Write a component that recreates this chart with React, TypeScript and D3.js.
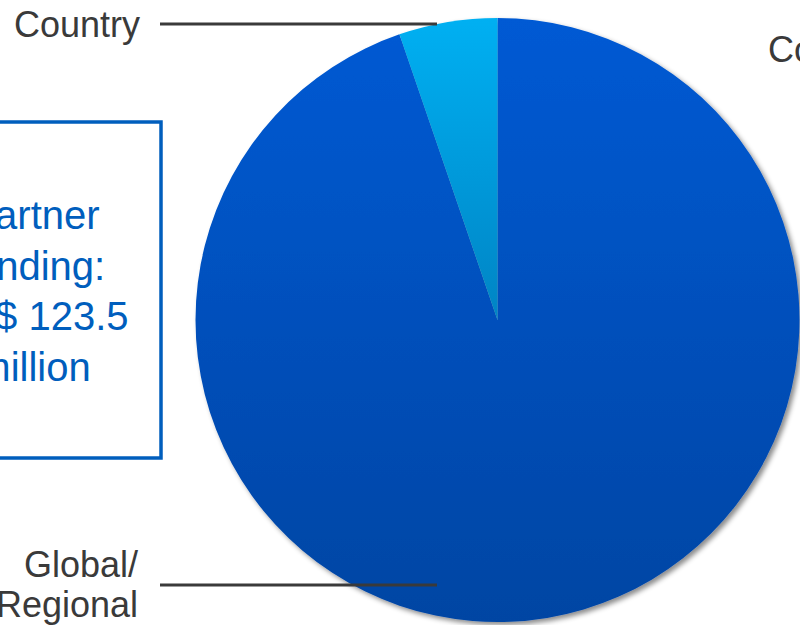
import React from "react";
import * as d3 from "d3";

const categories = ["Global/Regional", "Country"];
const values = [117.0, 6.5];
const boxLines = ["Partner", "funding:", "US$ 123.5", "million"];

const W = 800;
const H = 625;
const cx = 497.5;
const cy = 320;
const R = 302;

export default function App() {
  const pie = d3
    .pie<number>()
    .sort(null)
    .startAngle(0)
    .endAngle(2 * Math.PI)
    .value((d) => d);
  const arcs = pie(values);
  const arcGen = d3.arc<d3.PieArcDatum<number>>().innerRadius(0).outerRadius(R);
  const fills = ["url(#gMain)", "url(#gLight)"];
  const font = "'Liberation Sans', Arial, sans-serif";
  const lineY = d3.scalePoint<number>().domain([0, 1, 2, 3]).range([229, 381]);

  return (
    <svg
      width={W}
      height={H}
      style={{ position: "absolute", left: 0, top: 0, display: "block" }}
    >
      <defs>
        <linearGradient id="gMain" gradientUnits="userSpaceOnUse" x1="0" y1={-R} x2="0" y2={R}>
          <stop offset="0" stopColor="#005AD4" />
          <stop offset="1" stopColor="#0045A3" />
        </linearGradient>
        <linearGradient id="gLight" gradientUnits="userSpaceOnUse" x1="0" y1={-R} x2="0" y2={R}>
          <stop offset="0" stopColor="#00B0F2" />
          <stop offset="0.5" stopColor="#0084C4" />
          <stop offset="1" stopColor="#005A9A" />
        </linearGradient>
        <filter id="shadow" x="-10%" y="-10%" width="130%" height="130%">
          <feDropShadow dx="3" dy="3" stdDeviation="2.5" floodColor="#000" floodOpacity="0.45" />
        </filter>
      </defs>
      <rect width={W} height={H} fill="#fff" />
      <g transform={`translate(${cx},${cy})`} filter="url(#shadow)">
        {arcs.map((a, i) => (
          <path key={categories[i]} d={arcGen(a) || ""} fill={fills[i]} />
        ))}
      </g>

      {/* Box */}
      <rect x={-200} y={122} width={361} height={336} fill="none" stroke="#005EBD" strokeWidth={3.5} />
      {boxLines.map((t, i) => (
        <text
          key={t}
          x={34}
          y={lineY(i)}
          textAnchor="middle"
          fontFamily={font}
          fontSize={40}
          fill="#005EBD"
        >
          {t}
        </text>
      ))}

      {/* Leader lines & labels */}
      <line x1={160} x2={437} y1={24} y2={24} stroke="#3a3a3a" strokeWidth={3} />
      <text x={140} y={37} textAnchor="end" fontFamily={font} fontSize={36} fill="#3a3a3a">
        {categories[1]}
      </text>
      <line x1={160} x2={437} y1={585} y2={585} stroke="#3a3a3a" strokeWidth={3} />
      <text x={138} y={577} textAnchor="end" fontFamily={font} fontSize={36} fill="#3a3a3a">
        Global/
      </text>
      <text x={138} y={617} textAnchor="end" fontFamily={font} fontSize={36} fill="#3a3a3a">
        Regional
      </text>
      <text x={768} y={62} fontFamily={font} fontSize={36} fill="#3a3a3a">
        Country
      </text>
    </svg>
  );
}
